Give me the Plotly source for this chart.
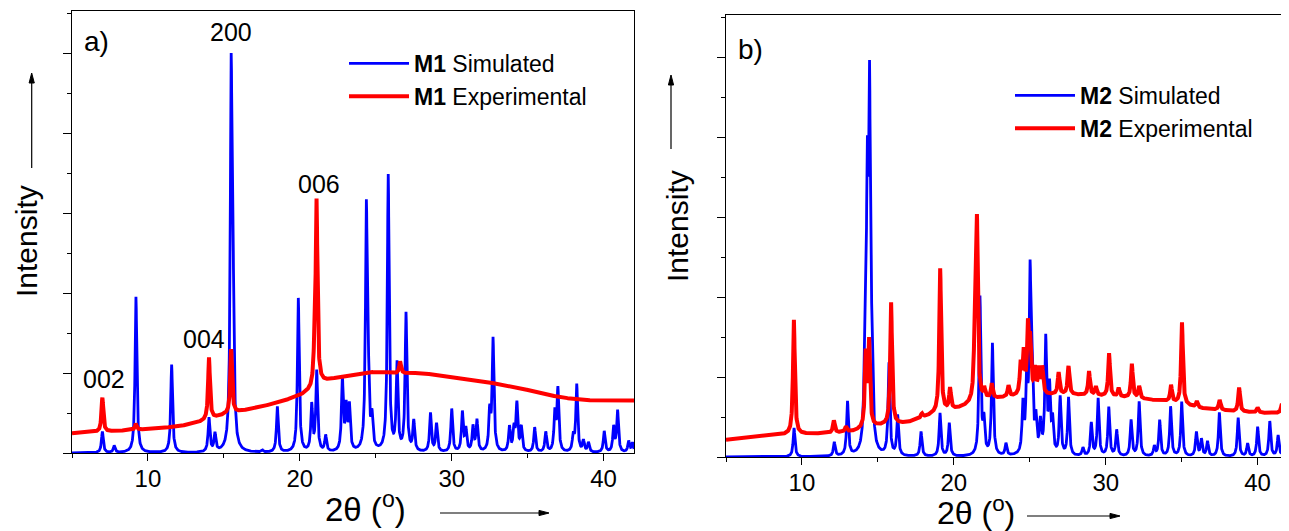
import numpy as np
import plotly.graph_objects as go

# ---------------- data ----------------
two_theta = np.round(np.arange(5.0, 42.0001, 0.01), 2)
peak_fwhm_sim = 0.14
peak_fwhm_exp = 0.14

# Panel a) M1 simulated: peak positions (2θ) and heights
m1_sim_pos = [7.0, 7.78, 9.21, 11.56, 14.02, 14.41, 15.48, 15.6, 17.53, 18.52, 19.9,
              20.78, 21.11, 21.7, 22.8, 23.05, 23.26, 24.38, 24.5, 24.75, 25.82, 26.4,
              26.99, 27.5, 28.6, 29.0, 30.0, 30.7, 30.93, 31.4, 31.66, 32.5, 32.72,
              33.8, 34.1, 34.29, 34.58, 35.46, 36.19, 36.79, 36.99, 38.0, 38.23, 38.67,
              39.0, 40.04, 40.66, 40.92, 41.65, 41.9]
m1_sim_h = [0.53, 0.17, 3.9, 2.2, 0.85, 0.45, 9.1, 3.5, 0.05, 1.14, 3.85,
            1.15, 2.0, 0.4, 1.8, 1.05, 1.1, 5.9, 1.5, 0.75, 6.9, 2.15,
            3.45, 0.75, 0.97, 0.7, 1.08, 0.98, 0.55, 0.62, 0.78, 0.95, 2.8,
            0.62, 0.55, 1.18, 0.6, 0.62, 0.5, 0.95, 1.55, 0.38, 1.68, 0.28,
            0.24, 0.53, 0.62, 1.03, 0.28, 0.24]

# Panel a) M1 experimental: background knots and peaks (height above background)
m1_bg_x = [5, 8, 10, 12, 13.5, 15, 17, 18.5, 20, 20.8, 21.4, 22, 23, 24.5, 26.3,
           28, 30, 31.8, 33.3, 35.1, 36.9, 38.4, 40, 42]
m1_bg_y = [0.49, 0.55, 0.6, 0.66, 0.78, 0.95, 1.12, 1.25, 1.43, 1.58, 1.76, 1.83,
           1.93, 2.03, 1.99, 2.0, 1.9, 1.82, 1.70, 1.57, 1.41, 1.33, 1.31, 1.31]
m1_exp_pos = [7.0, 9.2, 14.02, 15.48, 20.95, 21.1, 26.6]
m1_exp_h = [0.85, 0.15, 1.55, 1.6, 0.5, 4.6, 0.3]

# Panel b) M2 simulated
m2_sim_pos = [9.48, 12.13, 13.0, 14.15, 14.3, 14.45, 14.6, 15.73, 16.3, 17.84, 19.09,
              19.7, 21.72, 21.98, 22.54, 23.43, 24.55, 24.8, 25.02, 25.15, 25.4, 25.7,
              26.05, 26.3, 26.5, 27.0, 27.55, 28.5, 29.05, 29.5, 30.2, 30.72, 31.67,
              32.2, 33.2, 33.55, 34.27, 35.0, 35.97, 36.3, 36.7, 37.48, 38.72, 39.34,
              40.0, 40.8, 41.35, 41.86]
m2_sim_h = [0.72, 0.35, 1.35, 2.3, 6.0, 8.4, 1.8, 2.3, 1.0, 0.62, 1.08,
            0.83, 3.95, 0.8, 2.8, 0.3, 1.2, 1.8, 4.3, 1.7, 0.8, 0.75,
            2.85, 1.6, 0.8, 1.45, 1.45, 0.2, 0.82, 1.43, 1.22, 0.65, 0.9,
            1.36, 0.24, 0.9, 1.24, 1.36, 0.6, 0.42, 0.37, 1.1, 0.97, 0.32,
            0.74, 0.88, 0.52, 0.52]

# Panel b) M2 experimental
m2_bg_x = [5, 6.8, 9.0, 12.2, 13.4, 15.0, 16.9, 18.6, 20.4, 22.2, 23.9, 25.5, 27.5,
           29.65, 31.8, 34.0, 36.2, 38.4, 40.6, 42]
m2_bg_y = [0.43, 0.49, 0.56, 0.6, 0.64, 0.77, 0.85, 1.06, 1.22, 1.43, 1.5, 1.54,
           1.56, 1.52, 1.47, 1.39, 1.22, 1.14, 1.1, 1.1]
m2_exp_pos = [9.47, 12.1, 12.9, 14.2, 14.42, 15.87, 17.9, 19.1, 19.75, 21.4, 21.52,
              22.0, 22.5, 23.6, 24.4, 24.6, 24.88, 25.02, 25.34, 25.6, 25.82, 26.9,
              27.55, 28.9, 29.35, 30.22, 30.85, 31.72, 32.2, 34.3, 35.02, 36.0, 37.5,
              38.78, 40.0, 41.6]
m2_exp_h = [2.86, 0.31, 0.13, 1.8, 2.1, 3.05, 0.1, 3.6, 0.53, 2.0, 4.2,
            0.24, 0.36, 0.28, 0.75, 1.0, 1.6, 1.2, 0.6, 0.6, 0.65, 0.55,
            0.7, 0.6, 0.22, 1.08, 0.22, 0.85, 0.3, 0.42, 2.05, 0.15, 0.25,
            0.6, 0.12, 0.23]

x_tick_vals = [10, 20, 30, 40]
x_tick_text = ["10", "20", "30", "40"]


def pattern(x, pos, height, fwhm):
    hw2 = (fwhm / 2.0) ** 2
    y = np.zeros_like(x)
    for p, h in zip(pos, height):
        y += h * hw2 / ((x - p) ** 2 + hw2)
    return y


m1_sim = pattern(two_theta, m1_sim_pos, m1_sim_h, peak_fwhm_sim)
m1_exp = np.interp(two_theta, m1_bg_x, m1_bg_y) + pattern(two_theta, m1_exp_pos, m1_exp_h, peak_fwhm_exp)
m2_sim = pattern(two_theta, m2_sim_pos, m2_sim_h, peak_fwhm_sim)
m2_exp = np.interp(two_theta, m2_bg_x, m2_bg_y) + pattern(two_theta, m2_exp_pos, m2_exp_h, peak_fwhm_exp)

# ---------------- figure ----------------
# the page body has an 8 px default margin, so the figure is 8 px smaller
W, H = 1281, 523
FONT = "Arial, Liberation Sans, sans-serif"
BLUE, RED = "#0000FF", "#FF0000"


def px(xp):
    return xp / W


def py(yp):
    return (H - yp) / H


fig = go.Figure()
fig.add_trace(go.Scatter(x=two_theta, y=m1_sim, mode="lines", name="<b>M1</b> Simulated",
                         line=dict(color=BLUE, width=2.8), xaxis="x", yaxis="y", legend="legend"))
fig.add_trace(go.Scatter(x=two_theta, y=m1_exp, mode="lines", name="<b>M1</b> Experimental",
                         line=dict(color=RED, width=4), xaxis="x", yaxis="y", legend="legend"))
fig.add_trace(go.Scatter(x=two_theta, y=m2_sim, mode="lines", name="<b>M2</b> Simulated",
                         line=dict(color=BLUE, width=2.8), xaxis="x2", yaxis="y2", legend="legend2"))
fig.add_trace(go.Scatter(x=two_theta, y=m2_exp, mode="lines", name="<b>M2</b> Experimental",
                         line=dict(color=RED, width=4), xaxis="x2", yaxis="y2", legend="legend2"))


def xaxis_style(domain, anchor):
    return dict(domain=domain, range=[5, 42], anchor=anchor, automargin=False,
                tickvals=x_tick_vals, ticktext=x_tick_text,
                ticks="outside", ticklen=7, tickwidth=1.3, tickcolor="black",
                ticklabelstandoff=-3,
                showline=True, linecolor="black", linewidth=1.3, mirror=True,
                showgrid=False, zeroline=False,
                tickfont=dict(family=FONT, size=24, color="black"),
                minor=dict(dtick=5, tick0=0, ticks="outside", ticklen=4, tickwidth=1.3,
                           tickcolor="black", showgrid=False))


def yaxis_style(domain, anchor):
    return dict(domain=domain, range=[0, 11.05], anchor=anchor, automargin=False,
                showticklabels=False,
                dtick=2, tick0=0, ticks="outside", ticklen=8, tickwidth=1.3, tickcolor="black",
                showline=True, linecolor="black", linewidth=1.3, mirror=True,
                showgrid=False, zeroline=False,
                minor=dict(dtick=1, tick0=0, ticks="outside", ticklen=4, tickwidth=1.3,
                           tickcolor="black", showgrid=False))


fig.update_layout(
    width=W, height=H, margin=dict(l=0, r=0, t=0, b=0),
    paper_bgcolor="white", plot_bgcolor="white",
    font=dict(family=FONT, color="black"),
    xaxis=xaxis_style([px(64), px(626)], "y"),
    yaxis=yaxis_style([py(445), py(3)], "x"),
    xaxis2=xaxis_style([px(718), px(1280)], "y2"),
    yaxis2=yaxis_style([py(449), py(7)], "x2"),
    legend=dict(x=px(336), y=py(34), xanchor="left", yanchor="top",
                font=dict(family=FONT, size=23, color="black"), bgcolor="rgba(0,0,0,0)",
                itemwidth=60, tracegroupgap=0),
    legend2=dict(x=px(1002), y=py(66), xanchor="left", yanchor="top",
                 font=dict(family=FONT, size=23, color="black"), bgcolor="rgba(0,0,0,0)",
                 itemwidth=60, tracegroupgap=0),
    showlegend=True,
)

anns = []


def label(text, xp, yp, size, angle=0):
    anns.append(dict(text=text, x=px(xp), y=py(yp), xref="paper", yref="paper",
                     xanchor="center", yanchor="middle", textangle=angle, showarrow=False,
                     font=dict(family=FONT, size=size, color="black")))


# panel labels
label("a)", 88, 33, 28)
label("b)", 742, 42, 28)
# axis titles
label("Intensity", 18, 233, 30, -90)
label("Intensity", 670, 218, 30, -90)
label("2θ (<sup>o</sup>)", 358, 499, 33)
label("2θ (<sup>o</sup>)", 968, 503, 32)

# reflection labels (panel a)
for txt, xx, yy in [("002", 7.12, 1.85), ("004", 13.72, 2.85), ("200", 15.47, 10.53), ("006", 21.26, 6.73)]:
    anns.append(dict(text=txt, x=xx, y=yy, xref="x", yref="y", showarrow=False,
                     xanchor="center", yanchor="middle",
                     font=dict(family=FONT, size=25, color="black")))
fig.update_layout(annotations=anns)

# axis direction arrows drawn as shapes: (tail x, tail y, head x, head y) in figure px
shapes = []
HEAD_L, HEAD_HW = 10, 2.6
for tx, ty, hx, hy in [(23.7, 160, 23.7, 65), (432, 505, 541, 505),
                       (663, 141, 663, 67), (1019, 508, 1112, 508)]:
    if tx == hx:  # vertical, pointing up
        bx, by = hx, hy + HEAD_L
        tri = [(hx, hy), (hx - HEAD_HW, by), (hx + HEAD_HW, by)]
    else:  # horizontal, pointing right
        bx, by = hx - HEAD_L, hy
        tri = [(hx, hy), (bx, hy - HEAD_HW), (bx, hy + HEAD_HW)]
    shapes.append(dict(type="line", xref="paper", yref="paper",
                       x0=px(tx), y0=py(ty), x1=px(bx), y1=py(by),
                       line=dict(color="black", width=1.2)))
    path = "M {} {} L {} {} L {} {} Z".format(*[v for p in tri for v in (px(p[0]), py(p[1]))])
    shapes.append(dict(type="path", xref="paper", yref="paper", path=path,
                       fillcolor="black", line=dict(color="black", width=1)))
fig.update_layout(shapes=shapes)

fig.write_html("out.html")
